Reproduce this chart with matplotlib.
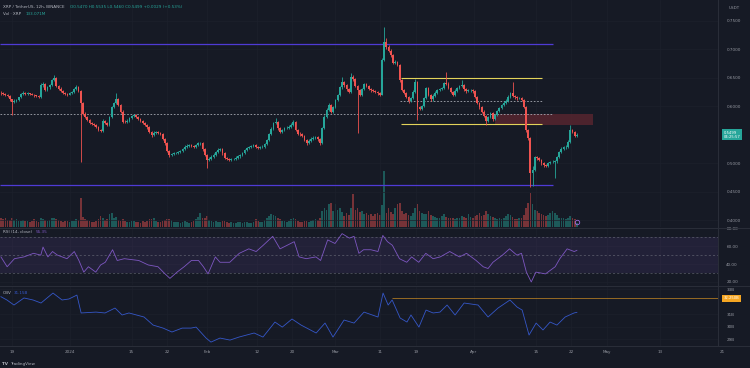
import numpy as np
import matplotlib
matplotlib.use("Agg")
import matplotlib.pyplot as plt
import matplotlib.transforms as mtransforms
from matplotlib.lines import Line2D
from matplotlib.patches import Rectangle

# XRP / TetherUS 12h candles, 16 Dec 2023 -> 25 Apr 2024
first_open = 0.6240
closes = [
    .6226, .6214, .6203, .6179, .6121, .6080, .6097, .6109, .6156, .6209,
    .6238, .6220, .6226, .6214, .6203, .6191, .6179, .6168, .6372, .6390,
    .6285, .6331, .6366, .6460, .6489, .6355, .6308, .6273, .6238, .6209,
    .6203, .6226, .6255, .6296, .6343, .6273, .6051, .5863, .5816, .5758,
    .5711, .5688, .5670, .5641, .5583, .5571, .5746, .5711, .5670, .5816,
    .5992, .6051, .6121, .6021, .5904, .5729, .5723, .5746, .5787, .5828,
    .5840, .5805, .5770, .5746, .5711, .5670, .5629, .5553, .5495, .5536,
    .5547, .5530, .5512, .5430, .5349, .5220, .5144, .5161, .5173, .5185,
    .5196, .5208, .5249, .5290, .5302, .5319, .5307, .5290, .5313, .5349,
    .5352, .5243, .5144, .5056, .5079, .5115, .5150, .5191, .5232, .5249,
    .5173, .5091, .5074, .5056, .5068, .5079, .5097, .5120, .5144, .5185,
    .5226, .5261, .5284, .5302, .5313, .5290, .5267, .5278, .5290, .5337,
    .5407, .5512, .5606, .5699, .5729, .5612, .5553, .5583, .5612, .5623,
    .5641, .5676, .5723, .5583, .5518, .5506, .5477, .5407, .5349, .5395,
    .5430, .5448, .5460, .5419, .5349, .5612, .5816, .5934, .6021, .5904,
    .5980, .6109, .6196, .6331, .6424, .6366, .6296, .6255, .6518, .6471,
    .6354, .6284, .6202, .6296, .6389, .6354, .6307, .6278, .6266, .6249,
    .6226, .6202, .6811, .7132, .7045, .6974, .6898, .6764, .6781, .6723,
    .6460, .6284, .6237, .6167, .6085, .6138, .6255, .6430, .5990, .5955,
    .6003, .6138, .6313, .6196, .6120, .6185, .6237, .6284, .6302, .6319,
    .6401, .6395, .6313, .6255, .6202, .6272, .6319, .6354, .6372, .6296,
    .6261, .6278, .6282, .6261, .6167, .6062, .5980, .5904, .5828, .5746,
    .5804, .5874, .5769, .5845, .5915, .5962, .6015, .6062, .6097, .6167,
    .6226, .6185, .6155, .6138, .6140, .6109, .5991, .5582, .5436, .4822,
    .4880, .5102, .5091, .5055, .4997, .4962, .4950, .4997, .5015, .5026,
    .5030, .5114, .5196, .5254, .5278, .5290, .5377, .5582, .5553, .5470, .5499,
]
highs = [
    .6265, .6248, .6236, .6221, .6195, .6135, .6125, .6130, .6170, .6228,
    .6262, .6255, .6250, .6240, .6232, .6220, .6205, .6198, .6410, .6430,
    .6405, .6350, .6390, .6480, .6548, .6505, .6372, .6330, .6290, .6255,
    .6230, .6245, .6275, .6318, .6370, .6360, .6290, .6070, .5890, .5835,
    .5775, .5730, .5705, .5690, .5660, .5605, .5770, .5765, .5730, .5835,
    .6010, .6080, .6226, .6140, .6040, .5925, .5750, .5770, .5810, .5850,
    .5862, .5858, .5822, .5790, .5765, .5728, .5690, .5648, .5570, .5560,
    .5568, .5570, .5550, .5528, .5450, .5368, .5240, .5185, .5195, .5205,
    .5218, .5230, .5270, .5315, .5330, .5345, .5338, .5325, .5335, .5372,
    .5380, .5365, .5260, .5165, .5105, .5140, .5175, .5215, .5262, .5275,
    .5268, .5190, .5112, .5095, .5090, .5100, .5120, .5142, .5165, .5205,
    .5248, .5285, .5305, .5328, .5340, .5330, .5310, .5300, .5315, .5360,
    .5428, .5535, .5630, .5725, .5790, .5745, .5630, .5605, .5635, .5648,
    .5665, .5700, .5760, .5740, .5600, .5540, .5525, .5495, .5425, .5418,
    .5452, .5470, .5485, .5478, .5435, .5635, .5840, .5960, .6055, .6040,
    .6005, .6130, .6220, .6355, .6520, .6445, .6385, .6315, .6580, .6540,
    .6490, .6375, .6300, .6320, .6410, .6408, .6372, .6325, .6298, .6285,
    .6268, .6245, .6850, .7390, .7190, .7070, .6995, .6920, .6810, .6800,
    .6740, .6480, .6305, .6255, .6185, .6160, .6280, .6470, .6450, .6010,
    .6025, .6160, .6340, .6330, .6215, .6210, .6260, .6305, .6325, .6345,
    .6425, .6600, .6420, .6330, .6272, .6295, .6340, .6378, .6460, .6390,
    .6315, .6300, .6302, .6295, .6280, .6185, .6080, .5998, .5925, .5845,
    .5828, .5895, .5890, .5868, .5938, .5985, .6040, .6085, .6120, .6190,
    .6250, .6430, .6205, .6175, .6160, .6158, .6125, .6010, .5600, .5455,
    .4950, .5125, .5130, .5110, .5075, .5020, .4985, .5020, .5040, .5050,
    .5055, .5135, .5220, .5278, .5300, .5315, .5400, .5670, .5600, .5570, .5535,
]
lows = [
    .6205, .6190, .6182, .6160, .6098, .5846, .6060, .6078, .6095, .6140,
    .6195, .6201, .6198, .6195, .6188, .6170, .6158, .6140, .6150, .6330,
    .6260, .6270, .6310, .6350, .6440, .6330, .6290, .6250, .6215, .6190,
    .6180, .6190, .6210, .6240, .6280, .6250, .5027, .5840, .5790, .5735,
    .5690, .5665, .5650, .5620, .5560, .5545, .5555, .5690, .5648, .5655,
    .5800, .5975, .6030, .6000, .5880, .5705, .5700, .5705, .5730, .5770,
    .5810, .5785, .5750, .5725, .5690, .5648, .5605, .5530, .5465, .5475,
    .5515, .5510, .5490, .5405, .5325, .5195, .5115, .5125, .5140, .5155,
    .5165, .5178, .5190, .5230, .5270, .5285, .5288, .5268, .5272, .5295,
    .5322, .5220, .5120, .4910, .5030, .5060, .5095, .5130, .5175, .5210,
    .5150, .5070, .5050, .5035, .5040, .5048, .5060, .5080, .5100, .5128,
    .5168, .5210, .5245, .5265, .5285, .5270, .5245, .5250, .5260, .5272,
    .5320, .5390, .5495, .5585, .5680, .5590, .5530, .5535, .5565, .5595,
    .5600, .5620, .5655, .5560, .5495, .5485, .5455, .5385, .5325, .5330,
    .5375, .5410, .5425, .5398, .5325, .5335, .5595, .5800, .5915, .5880,
    .5885, .5960, .6090, .6180, .6310, .6345, .6275, .6230, .6240, .6450,
    .6330, .5524, .6180, .6185, .6280, .6335, .6290, .6255, .6245, .6228,
    .6205, .6180, .6190, .6790, .7010, .6950, .6870, .6740, .6745, .6700,
    .6430, .6260, .6215, .6145, .6060, .6065, .6120, .6235, .5758, .5930,
    .5935, .5985, .6120, .6175, .6100, .6100, .6165, .6220, .6265, .6285,
    .6300, .6375, .6295, .6235, .6180, .6185, .6255, .6300, .6335, .6275,
    .6240, .6245, .6255, .6240, .6145, .6040, .5958, .5880, .5805, .5670,
    .5725, .5785, .5745, .5750, .5825, .5895, .5945, .5995, .6040, .6080,
    .6150, .6165, .6135, .6115, .6118, .6088, .5970, .5555, .5410, .4588,
    .4600, .4860, .5065, .5030, .4975, .4940, .4925, .4930, .4978, .4995,
    .4740, .5005, .5095, .5175, .5235, .5255, .5270, .5360, .5530, .5455, .5460,
]
volumes = [  # millions of XRP
    300, 260, 300, 220, 240, 280, 230, 245, 200, 190,
    210, 180, 190, 170, 200, 245, 180, 160, 300, 245,
    220, 190, 230, 300, 280, 250, 210, 190, 170, 190,
    180, 160, 200, 190, 250, 230, 940, 320, 260, 210,
    190, 170, 160, 200, 260, 350, 300, 220, 260, 420,
    460, 300, 330, 240, 200, 260, 180, 150, 170, 190,
    200, 150, 160, 140, 180, 170, 200, 250, 260, 300,
    200, 160, 150, 190, 240, 260, 245, 210, 170, 150,
    160, 140, 170, 190, 150, 140, 160, 190, 260, 320,
    460, 300, 280, 350, 240, 190, 160, 180, 150, 170,
    190, 200, 160, 140, 150, 130, 140, 160, 150, 140,
    160, 150, 140, 130, 150, 245, 200, 160, 170, 230,
    300, 350, 405, 380, 350, 300, 250, 200, 190, 170,
    180, 250, 300, 260, 190, 170, 160, 200, 180, 160,
    190, 210, 245, 230, 300, 510, 620, 560, 725, 780,
    510, 725, 560, 620, 480, 350, 460, 400, 620, 1045,
    560, 620, 480, 510, 430, 460, 380, 405, 350, 420,
    460, 380, 700, 1790, 460, 620, 480, 405, 600, 725,
    780, 510, 430, 460, 400, 350, 450, 620, 725, 500,
    460, 420, 405, 510, 400, 350, 330, 300, 300, 350,
    405, 330, 300, 280, 300, 270, 300, 280, 350, 320,
    300, 405, 330, 300, 350, 400, 460, 350, 400, 510,
    405, 350, 320, 300, 260, 280, 245, 300, 350, 405,
    380, 330, 245, 260, 280, 300, 400, 620, 780, 1100,
    725, 560, 510, 450, 405, 380, 350, 400, 460, 510,
    450, 380, 300, 280, 300, 260, 300, 350, 300, 250, 133.071,
]

# RSI(14) and OBV traced at candle positions
rsi_x = [0, 2.8, 6.1, 10.4, 14.7, 18.0, 19.0, 21.2, 23.3, 25.5, 29.8, 33.1, 35.2, 37.4, 39.5,
         42.8, 45.0, 47.1, 50.4, 52.5, 55.7, 62.2, 66.5, 70.9, 74.1, 76.3, 79.5, 82.7, 86.0,
         89.2, 91.4, 93.5, 96.8, 98.9, 103.3, 107.6, 111.9, 115.2, 118.4, 122.7, 126.0, 129.2,
         132.4, 134.6, 137.8, 142.2, 144.3, 147.5, 150.8, 154.0, 157.3, 159.4, 161.6, 163.7,
         167.0, 170.2, 172.4, 174.5, 176.7, 179.9, 183.2, 185.4, 188.6, 191.8, 195.1, 198.3,
         202.6, 207.0, 210.2, 214.5, 217.7, 219.9, 222.1, 226.4, 229.6, 232.9, 235.0, 237.2,
         239.4, 241.5, 245.8, 250.2, 252.3, 255.6, 258.8, 260]
rsi_y = [48, 37, 46, 48, 52, 50, 59, 48, 54, 50, 46, 54, 44, 31, 37,
         31, 39, 42, 56, 44, 46, 44, 39, 37, 29, 24, 31, 37, 44,
         44, 37, 29, 48, 42, 42, 52, 57, 54, 61, 71, 57, 61,
         65, 48, 46, 48, 44, 67, 63, 74, 69, 71, 52, 56,
         56, 54, 72, 65, 61, 46, 42, 48, 42, 52, 46, 48,
         54, 48, 52, 44, 37, 35, 42, 50, 57, 50, 52, 31,
         20, 31, 29, 37, 46, 57, 54, 55.35]
obv_x = [0, 2.7, 5.9, 10.4, 14.5, 18.1, 23.5, 27.6, 30.7, 34.3, 36.2, 42.9, 47.0, 51.5, 54.7,
         57.8, 64.6, 68.7, 73.2, 77.2, 81.8, 85.8, 88.1, 92.6, 94.8, 98.9, 103.4, 107.5, 114.3,
         118.3, 123.7, 127.0, 131.4, 135.5, 142.3, 146.3, 149.9, 154.9, 159.4, 163.9, 170.2,
         172.5, 174.8, 176.6, 180.2, 183.3, 185.1, 188.7, 191.9, 195.1, 198.2, 201.4, 205.0,
         209.1, 215.4, 219.9, 224.4, 229.8, 233.0, 235.3, 238.4, 241.6, 244.7, 247.9, 251.0,
         254.7, 258.7, 260]
obv_y = [32.39, 32.13, 31.73, 32.29, 32.13, 31.89, 32.68, 32.13, 32.21, 32.52, 31.10, 31.17,
         31.10, 31.49, 30.94, 31.10, 30.78, 30.14, 29.90, 29.59, 29.90, 29.90, 29.98, 29.11,
         28.79, 29.11, 28.95, 29.19, 29.51, 29.19, 30.38, 29.98, 30.62, 30.14, 29.51, 30.30,
         29.19, 30.54, 30.30, 31.17, 30.78, 32.68, 31.73, 32.13, 30.70, 30.38, 30.94, 29.98,
         31.33, 31.10, 31.17, 31.73, 30.94, 31.89, 31.73, 30.78, 31.49, 32.13, 31.57, 31.33,
         29.35, 30.30, 29.75, 30.38, 30.14, 30.78, 31.10, 31.15]  # billions

time_labels = ["19", "2024", "15", "22", "Feb", "12", "20", "Mar", "11", "19",
               "Apr", "15", "22", "May", "13", "21"]
time_pos = [5, 31, 59, 75, 93, 115.5, 131.5, 151, 171, 187.5, 213.5, 241.5, 257.5,
            273.5, 297.5, 325.5]
price_ticks = [0.75, 0.70, 0.65, 0.60, 0.50, 0.45, 0.40]
rsi_ticks = [80, 60, 40, 20]
obv_ticks = [33, 31, 30, 29]

# drawings on the chart
range_levels = [0.7091, 0.4626]
range_end = 249
channel_levels = [0.6495, 0.5682]
channel_span = [180.5, 244.3]
mid_level = 0.6086
mid_span = [180.2, 244.4]
support_level = 0.5858
support_end = 249
zone_lo, zone_hi = 0.5670, 0.5858
zone_span = [223.1, 267.4]
obv_level = 32.25
obv_level_start = 176.6

BG = "#161a25"
GRID = "#1c202c"
SEP = "#2a2e39"
TXT = "#9598a1"
UP = "#26a69a"
DN = "#ef5350"
PURPLE = "#4f3bd6"
YELLOW = "#e3d35a"
RSI_C = "#7e57c2"
OBV_C = "#3557c8"
ORANGE = "#f5a623"
FS = 3.0

W, H = 750, 368


def frame(x0, y0, x1, y1):
    return [x0 / W, 1 - y1 / H, (x1 - x0) / W, (y1 - y0) / H]


fig = plt.figure(figsize=(7.5, 3.68), dpi=100, facecolor=BG)
ax = fig.add_axes(frame(0, 0, 718, 227))
axr = fig.add_axes(frame(0, 228, 718, 285))
axo = fig.add_axes(frame(0, 286, 718, 346))
XL = (-0.42, 323.7)

n = len(closes)
x = np.arange(n)
c = np.array(closes)
o = np.r_[first_open, c[:-1]]
up = c >= o
col = np.where(up, UP, DN)

# volume behind the candles
axv = ax.twinx()
ax.set_zorder(axv.get_zorder() + 1)
ax.patch.set_visible(False)
axv.bar(x, volumes, width=0.75, color=col, alpha=0.45, lw=0)
axv.set_ylim(0, 227 * 32)
axv.yaxis.set_visible(False)
for s in axv.spines.values():
    s.set_visible(False)

ax.add_patch(Rectangle((zone_span[0], zone_lo), zone_span[1] - zone_span[0], zone_hi - zone_lo,
                       fc="#5a2630", ec="none", alpha=0.8, zorder=1))
ax.vlines(x, lows, highs, colors=col, lw=0.6, zorder=3)
ax.bar(x, np.maximum(np.abs(c - o), 0.0004), bottom=np.minimum(o, c), width=0.8,
       color=col, lw=0, zorder=3)

for lv in range_levels:
    ax.hlines(lv, XL[0], range_end, color=PURPLE, lw=0.9, zorder=2)
for lv in channel_levels:
    ax.hlines(lv, *channel_span, color=YELLOW, lw=0.8, zorder=2)
ax.hlines(mid_level, *mid_span, color="#a6a9b2", lw=0.6, linestyles=(0, (2, 2)), zorder=2)
ax.hlines(support_level, XL[0], support_end, color="#a6a9b2", lw=0.6,
          linestyles=(0, (2, 2)), zorder=2)
ax.plot([x[-1]], [0.023], transform=mtransforms.blended_transform_factory(ax.transData, ax.transAxes),
        marker="o", ms=3.2, mfc="none", mec="#9c6ade", mew=0.6, zorder=4)

ax.set_ylim(0.3881, 0.7863)
axr.set_ylim(16.6, 80.3)
axo.set_ylim(28.48, 33.24)

# RSI pane
axr.axhspan(30, 70, color=RSI_C, alpha=0.12, lw=0)
for lv in (70, 50, 30):
    axr.axhline(lv, color="#787b86", lw=0.5, ls=(0, (3, 3)), alpha=0.7)
axr.plot(rsi_x, rsi_y, color=RSI_C, lw=0.6)

# OBV pane
axo.plot(obv_x, obv_y, color=OBV_C, lw=0.6)
axo.hlines(obv_level, obv_level_start, XL[1], color=ORANGE, lw=0.5, alpha=0.8)

in_range = [p for p in time_pos if XL[0] <= p <= XL[1]]
for a, ticks, fmt in ((ax, price_ticks, "{:.4f}"), (axr, rsi_ticks, "{:.2f}"), (axo, obv_ticks, "{:.0f}B")):
    a.set_facecolor(BG)
    a.set_xlim(*XL)
    a.set_xticks(in_range)
    a.set_xticklabels([])
    a.yaxis.tick_right()
    a.set_yticks(ticks)
    a.set_yticklabels([fmt.format(t) for t in ticks])
    a.tick_params(axis="both", length=0, labelsize=FS, labelcolor=TXT, pad=6)
    a.grid(True, color=GRID, lw=0.5)
    a.set_axisbelow(True)
    for s in a.spines.values():
        s.set_visible(False)

# time axis labels
tb = mtransforms.blended_transform_factory(axo.transData, axo.transAxes)
for p, lab in zip(time_pos, time_labels):
    axo.text(p, -0.1, lab, transform=tb, ha="center", va="center", fontsize=FS,
             color=TXT, clip_on=False)

# price tag and OBV level tag on the scale
bt = mtransforms.blended_transform_factory(ax.transAxes, ax.transData)
ax.text(1.008, c[-1], f"{c[-1]:.4f}\n04:25:57", transform=bt, ha="left", va="center",
        fontsize=2.7, color="white", linespacing=1.15, clip_on=False,
        bbox=dict(boxstyle="square,pad=0.35", fc=UP, ec="none"))
bo = mtransforms.blended_transform_factory(axo.transAxes, axo.transData)
axo.text(1.008, obv_level, f"{obv_level:.3f}B", transform=bo, ha="left", va="center",
         fontsize=2.7, color="white", clip_on=False,
         bbox=dict(boxstyle="square,pad=0.35", fc=ORANGE, ec="none"))

# pane separators and price-scale border
for yy in (227.5, 285.5, 346):
    fig.add_artist(Line2D([0, 1], [1 - yy / H] * 2, color=SEP, lw=0.7))
fig.add_artist(Line2D([718 / W] * 2, [1 - 346 / H, 1], color=SEP, lw=0.7))


def ftext(px, py, s, **kw):
    kw.setdefault("fontsize", FS)
    kw.setdefault("color", TXT)
    fig.text(px / W, 1 - py / H, s, ha="left", va="center", **kw)


# legends
last_chg = c[-1] - c[-2]
hdr = (f"O{o[-1]:.4f} H{highs[-1]:.4f} L{lows[-1]:.4f} C{c[-1]:.4f} "
       f"{last_chg:+.4f} ({last_chg / c[-2] * 100:+.2f}%)")
ftext(3, 7, "XRP / TetherUS, 12h, BINANCE", color="#b2b5be")
ftext(70, 7, hdr, color=UP if last_chg >= 0 else DN)
ftext(3, 14, "Vol · XRP", color="#b2b5be")
ftext(26, 14, f"{volumes[-1]:.3f}M", color=UP)
ftext(3, 232, "RSI (14, close)", color="#b2b5be")
ftext(36, 232, f"{rsi_y[-1]:.2f}", color=RSI_C)
ftext(3, 292.5, "OBV", color="#b2b5be")
ftext(14, 292.5, f"{obv_y[-1]:.2f}B", color=OBV_C)
ftext(729, 8, "USDT")
ftext(2, 364, "TV", fontweight="bold", color="#b2b5be")
ftext(10, 364, "TradingView", color="#b2b5be")

fig.savefig("out.png", dpi=100, facecolor=BG)
